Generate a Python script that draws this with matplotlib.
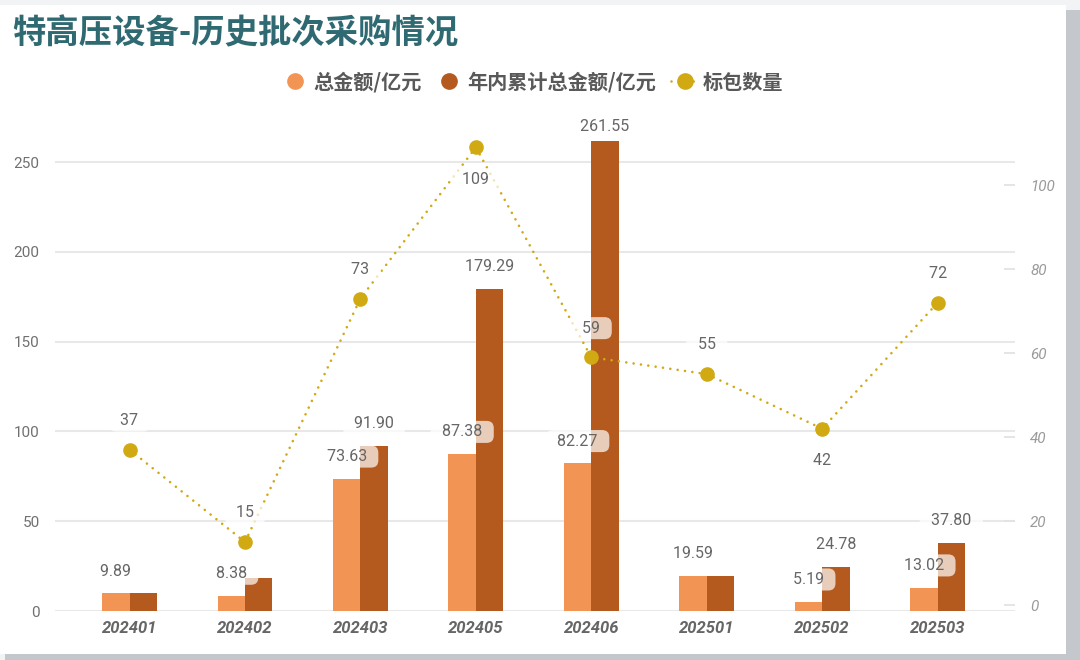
import matplotlib
matplotlib.use("Agg")
import matplotlib.pyplot as plt
from matplotlib.lines import Line2D
from matplotlib.patches import Rectangle
import numpy as np

plt.rcParams['font.family'] = ['Noto Sans CJK SC', 'DejaVu Sans']

# data
batches = ['202401', '202402', '202403', '202405', '202406', '202501', '202502', '202503']
total_amount = [9.89, 8.38, 73.63, 87.38, 82.27, 19.59, 5.19, 13.02]
cumulative_amount = [9.89, 18.27, 91.90, 179.29, 261.55, 19.59, 24.78, 37.80]
package_count = [37, 15, 73, 109, 59, 55, 42, 72]

left_ticks = [0, 50, 100, 150, 200, 250]
right_ticks = [0, 20, 40, 60, 80, 100]

# styling
LIGHT = '#f29554'
DARK = '#b45a1e'
GOLD = '#d1aa13'
TITLE_COLOR = '#2f6a72'
LABEL_COLOR = '#666666'
count_label_below = [False, False, False, True, False, False, True, False]
# the chart hides cumulative labels that would collide with others
show_cum_label = [False, False, True, True, True, False, True, True]
NUM_FONT = ['Roboto', 'DejaVu Sans']

fig = plt.figure(figsize=(10.8, 6.6), dpi=100)
fig.patch.set_facecolor('#f2f3f4')
# card shadow + white card
fig.add_artist(Rectangle((0.005, 0.0), 0.995, 0.985, transform=fig.transFigure,
                         fc='#c4c7cb', ec='none', zorder=-3))
fig.add_artist(Rectangle((0.0, 0.009), 0.987, 0.983, transform=fig.transFigure,
                         fc='white', ec='none', zorder=-2))

ax = fig.add_axes([0.0509, 0.0742, 0.8889, 0.7591])
ax.set_facecolor('none')
ax2 = ax.twinx()

x = np.arange(len(batches))
w = 0.238
ax.bar(x - w / 2, total_amount, w, color=LIGHT, zorder=2)
ax.bar(x + w / 2, cumulative_amount, w, color=DARK, zorder=2)

ax.set_xlim(-0.646, 7.67)
ax.set_ylim(0, 279)
ax.set_yticks(left_ticks)
ax.grid(axis='y', color='#e8e8e8', lw=1.5)
ax.set_axisbelow(True)
for s in ax.spines.values():
    s.set_visible(False)
ax.set_xticks(x)
ax.set_xticklabels(batches, fontfamily=NUM_FONT, fontweight='bold',
                   fontstyle='italic', fontsize=12, color=LABEL_COLOR)
ax.tick_params(axis='x', length=0, pad=7)
ax.tick_params(axis='y', length=0, pad=11, labelsize=11, labelcolor='#707070')
for t in ax.get_yticklabels():
    t.set_fontfamily(NUM_FONT)

box = dict(boxstyle='round,pad=0.22,rounding_size=0.45', fc='white', ec='none', alpha=0.7)

# points of headroom between a value and the top of the plot area
ymax = ax.get_ylim()[1]
pt_per_unit = ax.get_position().height * fig.get_figheight() * 72 / ymax


def label_offset(v):
    return min(16, (ymax - v) * pt_per_unit - 12)


# bar value labels
for i in range(len(batches)):
    ax.annotate(f'  {total_amount[i]:.2f}  ', (x[i] - w / 2, total_amount[i]),
                xytext=(0, label_offset(total_amount[i])), textcoords='offset points',
                ha='center', va='center', fontsize=11.5, color=LABEL_COLOR,
                fontfamily=NUM_FONT, bbox=box, zorder=5)
    if show_cum_label[i]:
        ax.annotate(f'  {cumulative_amount[i]:.2f}  ', (x[i] + w / 2, cumulative_amount[i]),
                    xytext=(0, label_offset(cumulative_amount[i])), textcoords='offset points',
                    ha='center', va='center', fontsize=11.5, color=LABEL_COLOR,
                    fontfamily=NUM_FONT, bbox=box, zorder=5, annotation_clip=False)

# package count line
dotted = (0, (0.01, 2.8))
ax2.plot(x, package_count, color=GOLD, lw=1.9, ls=dotted, dash_capstyle='round',
         marker='o', ms=9.5, zorder=3)
ax2.set_ylim(-1.43, 117.9)
ax2.set_yticks(right_ticks)
for s in ax2.spines.values():
    s.set_visible(False)
ax2.tick_params(axis='y', direction='in', length=8, width=1.3, color='#e3e3e3',
                pad=11, labelsize=11, labelcolor='#9a9a9a')
for t in ax2.get_yticklabels():
    t.set_fontfamily(NUM_FONT)
    t.set_fontstyle('italic')

for i, v in enumerate(package_count):
    dy = -23 if count_label_below[i] else 21
    ax2.annotate(f'  {v}  ', (x[i], v), xytext=(0, dy), textcoords='offset points',
                 ha='center', va='center', fontsize=11.5, color=LABEL_COLOR,
                 fontfamily=NUM_FONT, bbox=box, zorder=5)

# title and legend
fig.text(0.011, 0.949, '特高压设备-历史批次采购情况', fontsize=24, fontweight='bold',
         color=TITLE_COLOR, ha='left', va='center')

handles = [
    Line2D([], [], ls='none', marker='o', ms=11, color=LIGHT),
    Line2D([], [], ls='none', marker='o', ms=11, color=DARK),
    Line2D([], [], color=GOLD, lw=1.9, ls=dotted, dash_capstyle='round', marker='o', ms=11),
]
fig.legend(handles, ['总金额/亿元', '年内累计总金额/亿元', '标包数量'],
           loc='center', bbox_to_anchor=(532 / 1080, 1 - 82 / 660), ncol=3, frameon=False,
           prop={'size': 14.5, 'weight': 'bold'}, labelcolor='#595959',
           handlelength=1.4, handletextpad=0.2, columnspacing=0.7)

fig.savefig('out.png', dpi=100, facecolor=fig.get_facecolor())
